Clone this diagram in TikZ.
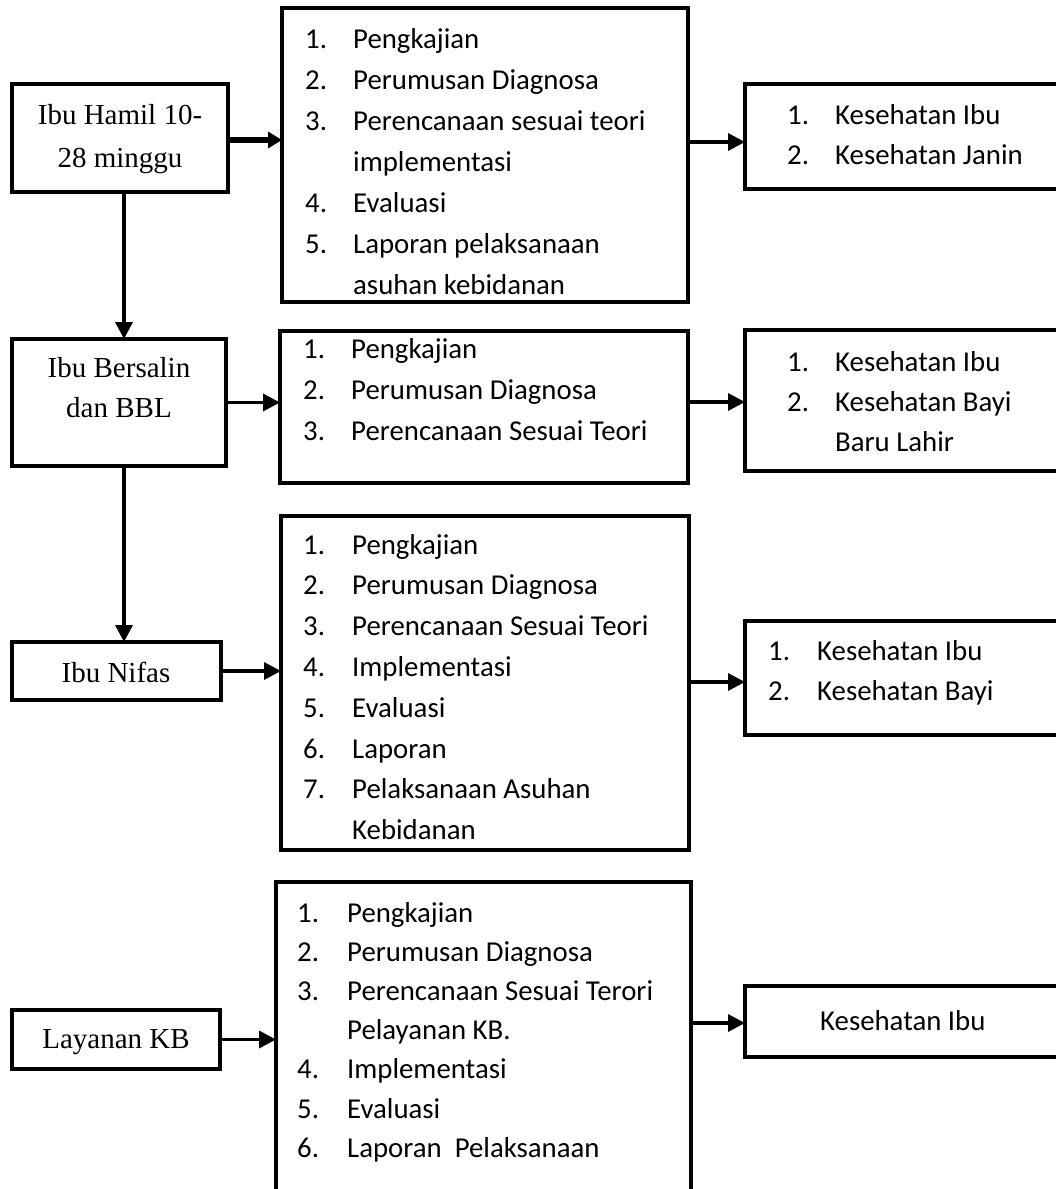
\documentclass[tikz,border=0pt]{standalone}
\usepackage{fontspec}
\setmainfont{Liberation Serif}
\newfontfamily\calibri{Carlito}
\usetikzlibrary{arrows.meta}
\tikzset{
  box/.style={draw, line width=3.5pt, inner sep=0pt, outer sep=0pt, anchor=north west},
  arr/.style={line width=3.5pt, -{Triangle[length=17pt,width=17pt]}},
  arrthick/.style={line width=6pt, -{Triangle[length=14pt,width=16pt]}},
  lefttext/.style={inner sep=0pt, anchor=base, font=\fontsize{29}{43}\selectfont},
  listtext/.style={inner sep=0pt, anchor=base west},
}
\newcommand{\lstfont}[1]{\calibri\fontsize{28.8}{#1}\selectfont}
\begin{document}
\begin{tikzpicture}[x=1pt,y=-1pt]
\useasboundingbox (0,0) rectangle (1056,1189);
\clip (0,0) rectangle (1056,1189);
% left boxes
\node[box, minimum width=216pt, minimum height=108pt] (A) at (12,84) {};
\node[box, minimum width=214pt, minimum height=127pt] (B) at (12,339) {};
\node[box, minimum width=209pt, minimum height=58pt] (C) at (12,642) {};
\node[box, minimum width=208pt, minimum height=59pt] (D) at (12,1010) {};
% middle boxes
\node[box, minimum width=406pt, minimum height=294pt] (M1) at (282,8) {};
\node[box, minimum width=408pt, minimum height=152pt] (M2) at (280,331) {};
\node[box, minimum width=408pt, minimum height=334pt] (M3) at (281,516) {};
\node[box, minimum width=415pt, minimum height=330pt] (M4) at (276,882) {};
% right boxes
\node[box, minimum width=330pt, minimum height=105pt] (R1) at (745,84) {};
\node[box, minimum width=330pt, minimum height=141pt] (R2) at (745,330) {};
\node[box, minimum width=330pt, minimum height=114pt] (R3) at (745,621) {};
\node[box, minimum width=330pt, minimum height=71pt] (R4) at (745,986) {};
% left texts
\node[lefttext] (tA) at (120,124) {\begin{tabular}[t]{@{}c@{}}Ibu Hamil 10-\\28 minggu\end{tabular}};
\node[lefttext] (tB) at (119,377) {\fontsize{29}{40}\selectfont\begin{tabular}[t]{@{}c@{}}Ibu Bersalin\\dan BBL\end{tabular}};
\node[lefttext] (tC) at (116,682) {Ibu Nifas};
\node[lefttext] (tD) at (116,1048) {Layanan KB};
% middle texts
\node[listtext] (tM1) at (305,48) {\lstfont{41.1}\begin{tabular}[t]{@{}p{48pt}@{}l@{}}
1. & Pengkajian\\
2. & Perumusan Diagnosa\\
3. & Perencanaan sesuai teori\\
   & implementasi\\
4. & Evaluasi\\
5. & Laporan pelaksanaan\\
   & asuhan kebidanan
\end{tabular}};
\node[listtext] (tM2) at (303,358) {\lstfont{41}\begin{tabular}[t]{@{}p{48pt}@{}l@{}}
1. & Pengkajian\\
2. & Perumusan Diagnosa\\
3. & Perencanaan Sesuai Teori
\end{tabular}};
\node[listtext] (tM3) at (303,554) {\lstfont{40.8}\begin{tabular}[t]{@{}p{49pt}@{}l@{}}
1. & Pengkajian\\
2. & Perumusan Diagnosa\\
3. & Perencanaan Sesuai Teori\\
4. & Implementasi\\
5. & Evaluasi\\
6. & Laporan\\
7. & Pelaksanaan Asuhan\\
   & Kebidanan
\end{tabular}};
\node[listtext] (tM4) at (297,922) {\lstfont{39.2}\begin{tabular}[t]{@{}p{50pt}@{}l@{}}
1. & Pengkajian\\
2. & Perumusan Diagnosa\\
3. & Perencanaan Sesuai Terori\\
   & Pelayanan KB.\\
4. & Implementasi\\
5. & Evaluasi\\
6. & Laporan\ \ Pelaksanaan
\end{tabular}};
% right texts
\node[listtext] (tR1) at (787,124) {\lstfont{40}\begin{tabular}[t]{@{}p{48pt}@{}l@{}}
1. & Kesehatan Ibu\\
2. & Kesehatan Janin
\end{tabular}};
\node[listtext] (tR2) at (787,371) {\lstfont{40}\begin{tabular}[t]{@{}p{48pt}@{}l@{}}
1. & Kesehatan Ibu\\
2. & Kesehatan Bayi\\
   & Baru Lahir
\end{tabular}};
\node[listtext] (tR3) at (768,660) {\lstfont{40}\begin{tabular}[t]{@{}p{49pt}@{}l@{}}
1. & Kesehatan Ibu\\
2. & Kesehatan Bayi
\end{tabular}};
\node[listtext] (tR4) at (820,1030) {\lstfont{40}Kesehatan Ibu};
% connectors
\draw[arrthick] (A.east |- 0,140) -- (M1.west |- 0,140);
\draw[arr] (B.east) -- (M2.west |- B.east);
\draw[arr] (C.east) -- (M3.west |- C.east);
\draw[arr] (D.east) -- (M4.west |- D.east);
\draw[arr] (A.south -| 124,0) -- (B.north -| 124,0);
\draw[arr] (B.south -| 124,0) -- (C.north -| 124,0);
\draw[arr] (M1.east |- 0,142) -- (R1.west |- 0,142);
\draw[arr] (M2.east |- 0,402) -- (R2.west |- 0,402);
\draw[arr] (M3.east |- 0,682) -- (R3.west |- 0,682);
\draw[arr] (M4.east |- 0,1023) -- (R4.west |- 0,1023);
\end{tikzpicture}
\end{document}
